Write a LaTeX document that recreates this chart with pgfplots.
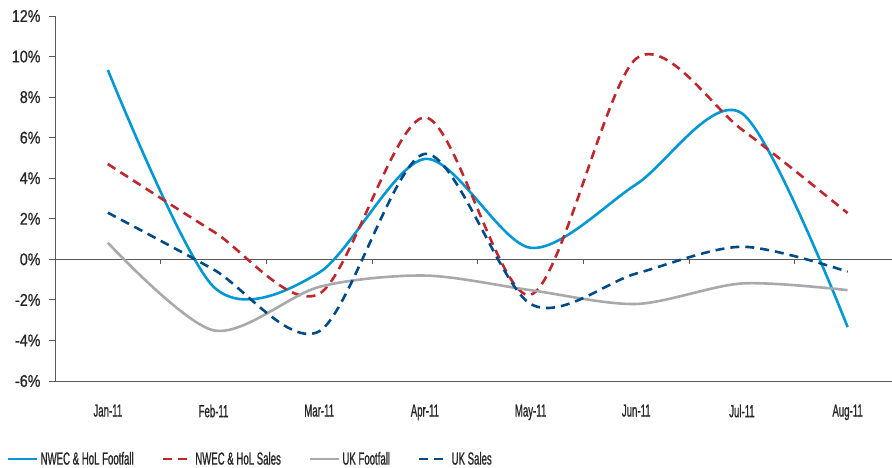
\documentclass[border=0pt]{standalone}
\usepackage{pgfplots}
\pgfplotsset{compat=1.18}
\usepackage{fontspec}
\setmainfont{Liberation Sans}
\newfontfamily\narrowfont{Liberation Sans}[FakeStretch=0.55, FakeBold=0.8]
\newfontfamily\tickfont{Liberation Sans}[FakeStretch=0.84, FakeBold=0.8]
\definecolor{ccyan}{HTML}{0098D4}
\definecolor{cred}{HTML}{C0272D}
\definecolor{cgray}{HTML}{A7A9AC}
\definecolor{cnavy}{HTML}{004B87}
\definecolor{ctext}{HTML}{262626}
\definecolor{caxis}{HTML}{595959}
\begin{document}
\begin{tikzpicture}
\begin{axis}[
  scale only axis,
  width=837bp, height=365bp,
  xmin=-0.5, xmax=7.42,
  ymin=-6, ymax=12,
  axis x line=middle, axis y line=none,
  axis line style={caxis, line width=0.8pt, -},
  xtick={0.5,1.5,...,6.5},
  xticklabels={},
  tick align=outside,
  major tick length=5bp,
  x tick style={caxis, line width=0.8pt},
]
\addplot[draw=none] coordinates {(0,0)};
\end{axis}
\begin{axis}[
  scale only axis,
  width=837bp, height=365bp,
  xmin=-0.5, xmax=7.42,
  ymin=-6, ymax=12,
  axis lines=left,
  axis line style={caxis, line width=0.8pt, -},
  xtick={0,...,7},
  xticklabels={Jan-11,Feb-11,Mar-11,Apr-11,May-11,Jun-11,Jul-11,Aug-11},
  x tick style={draw=none},
  xticklabel style={font=\fontsize{17.5bp}{20bp}\narrowfont, text=ctext, yshift=-14bp},
  ytick={-6,-4,...,12},
  yticklabels={-6\%,-4\%,-2\%,0\%,2\%,4\%,6\%,8\%,10\%,12\%},
  y tick style={caxis, line width=0.8pt},
  tick align=outside,
  major tick length=6bp,
  yticklabel style={font=\fontsize{17bp}{20bp}\tickfont, text=ctext, xshift=-5bp},
  legend columns=4,
  legend style={at={(-0.0573,-0.2137)}, anchor=west, draw=none, inner sep=0pt, outer sep=0pt,
    font=\fontsize{17.5bp}{20bp}\narrowfont, text=ctext,
    /tikz/every even column/.append style={column sep=26bp}},
  legend image code/.code={\draw[#1] (0bp,0bp) -- (29bp,0bp);},
  clip=false,
]
\addplot[ccyan, line width=2.6bp, smooth] coordinates {
  (0,9.34) (1,-1.35) (2,-0.65) (3,4.95) (4,0.57) (5,3.7) (6,7.2) (7,-3.34)};
\addlegendentry{NWEC \& HoL Footfall}
\addplot[cred, line width=2.6bp, smooth, dash pattern=on 9bp off 6bp] coordinates {
  (0,4.7) (1,1.37) (2,-1.7) (3,7.0) (4,-1.75) (5,9.9) (6,6.4) (7,2.28)};
\addlegendentry{NWEC \& HoL Sales}
\addplot[cgray, line width=2.6bp, smooth] coordinates {
  (0,0.82) (1,-3.5) (2,-1.36) (3,-0.8) (4,-1.52) (5,-2.2) (6,-1.19) (7,-1.52)};
\addlegendentry{UK Footfall}
\addplot[cnavy, line width=2.6bp, smooth, dash pattern=on 9bp off 6bp] coordinates {
  (0,2.3) (1,-0.5) (2,-3.55) (3,5.2) (4,-2.2) (5,-0.7) (6,0.62) (7,-0.61)};
\addlegendentry{UK Sales}
\end{axis}
\pgfresetboundingbox
\path (-55bp,-87bp) rectangle (837bp,381bp);
\end{tikzpicture}
\end{document}
